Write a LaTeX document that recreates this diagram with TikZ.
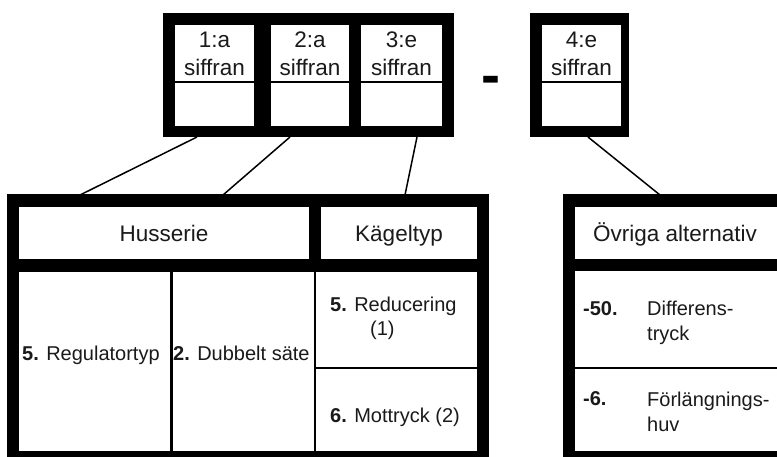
\documentclass[tikz,border=0pt]{standalone}
\usepackage{fontspec}
\setmainfont{Liberation Sans}
\definecolor{ink}{HTML}{1A1A1A}
\newcommand{\rbox}[6]{%
  \pgfmathsetmacro\rbw{#5-#3}\pgfmathsetmacro\rbh{#6-#4}%
  \pgfmathsetmacro\rbx{(#3+#5)/2}\pgfmathsetmacro\rby{(#4+#6)/2}%
  \node[#2, minimum width=\rbw pt, minimum height=\rbh pt] (#1) at (\rbx,\rby) {};}
\begin{document}
\begin{tikzpicture}[x=1pt,y=-1pt,
  blk/.style={fill=black, draw=none, inner sep=0pt, outer sep=0pt, rectangle},
  wht/.style={fill=white, draw=none, inner sep=0pt, outer sep=0pt, rectangle},
  hdr/.style={font=\fontsize{22.5}{27}\selectfont, text=ink, inner sep=0pt, anchor=base},
  body/.style={font=\fontsize{20}{25}\selectfont, text=ink, inner sep=0pt, anchor=base west, align=left},
  conn/.style={line width=1.5pt, draw=black}]
\useasboundingbox (0,0) rectangle (777,456);
\clip (0,0) rectangle (777,456);
% top boxes
\rbox{top}{blk}{163}{13}{454}{137}
\rbox{c1a}{wht}{175}{25}{254}{81}
\rbox{c1b}{wht}{175}{83}{254}{126}
\rbox{c2a}{wht}{271}{25}{349}{81}
\rbox{c2b}{wht}{271}{83}{349}{126}
\rbox{c3a}{wht}{361}{25}{442}{81}
\rbox{c3b}{wht}{361}{83}{442}{126}
\rbox{topr}{blk}{530}{13}{629}{137}
\rbox{c4a}{wht}{542}{25}{621}{81}
\rbox{c4b}{wht}{542}{83}{621}{126}
\node[hdr] (d1a) at (214.5,47) {1:a};
\node[hdr] (d1b) at (214.5,75) {siffran};
\node[hdr] (d2a) at (310,47) {2:a};
\node[hdr] (d2b) at (310,75) {siffran};
\node[hdr] (d3a) at (401.5,47) {3:e};
\node[hdr] (d3b) at (401.5,75) {siffran};
\node[hdr] (d4a) at (581.5,47) {4:e};
\node[hdr] (d4b) at (581.5,75) {siffran};
\node[font=\fontsize{57}{60}\selectfont\bfseries, inner sep=0pt, anchor=base] (dash) at (491,94) {-};
% left table
\rbox{lt}{blk}{7}{194}{489}{470}
\rbox{hus}{wht}{19}{207}{309}{259}
\rbox{kag}{wht}{321}{207}{477}{259}
\rbox{l1}{wht}{19}{272}{170}{451}
\rbox{l2}{wht}{173}{272}{314}{451}
\rbox{l3}{wht}{316}{272}{477}{367}
\rbox{l4}{wht}{316}{369}{477}{451}
\node[hdr] (husT) at (164,241) {Husserie};
\node[hdr] (kagT) at (399,241) {Kägeltyp};
\node[body] (regT) at (22,360) {\textbf{5.} Regulatortyp};
\node[body] (dubT) at (173,360) {\textbf{2.} Dubbelt säte};
\node[body] (redT) at (330,311) {\textbf{5.} Reducering};
\node[body] (redN) at (370,335) {(1)};
\node[body] (motT) at (330,422) {\textbf{6.} Mottryck (2)};
% right table
\rbox{rt}{blk}{563}{194}{800}{470}
\rbox{ovr}{wht}{575}{207}{800}{259}
\rbox{r1}{wht}{575}{271}{800}{367}
\rbox{r2}{wht}{575}{369}{800}{451}
\node[hdr] (ovrT) at (675,241) {Övriga alternativ};
\node[body] (n50) at (583,315) {\textbf{-50.}};
\node[body] (difT) at (647,340) {Differens-\\tryck};
\node[body] (n6) at (583,405) {\textbf{-6.}};
\node[body] (forT) at (647,431) {Förlängnings-\\huv};
% connectors
\coordinate (s1) at (197,137); \coordinate (e1) at (80,195);
\coordinate (s2) at (290,137); \coordinate (e2) at (223,195);
\coordinate (s3) at (417,137); \coordinate (e3) at (405,195);
\coordinate (s4) at (588,137); \coordinate (e4) at (660,195);
\draw[conn] (s1) -- (e1);
\draw[conn] (s2) -- (e2);
\draw[conn] (s3) -- (e3);
\draw[conn] (s4) -- (e4);
\end{tikzpicture}
\end{document}
